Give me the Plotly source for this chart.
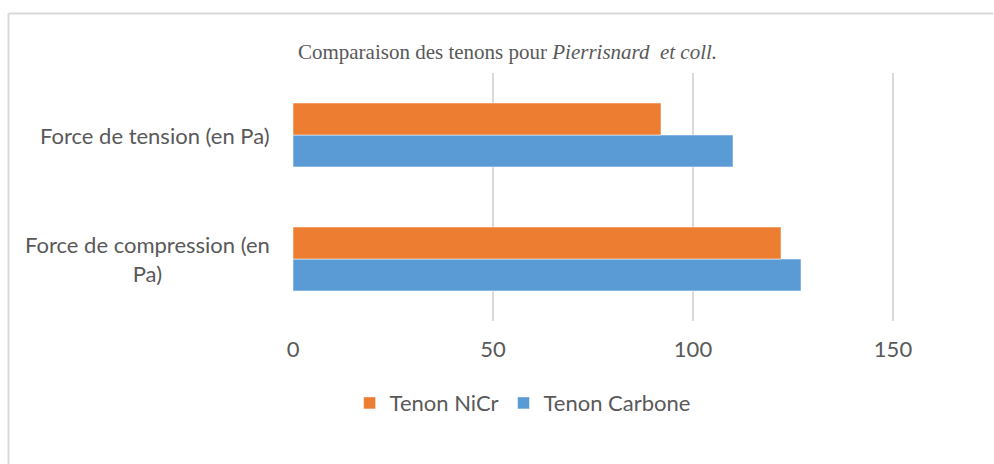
import plotly.graph_objects as go

categories = ["Force de compression (en Pa)", "Force de tension (en Pa)"]
category_labels = ["Force de compression (en<br>Pa)", "Force de tension (en Pa)"]
nicr_values = [122, 92]
carbone_values = [127, 110]
x_ticks = [0, 50, 100, 150]

FONT = "Lato, 'Noto Sans', sans-serif"
GREY = "#595959"

fig = go.Figure()
fig.add_trace(go.Bar(
    y=categories, x=carbone_values, orientation="h", name="Tenon Carbone",
    marker=dict(color="#5B9BD5", line=dict(color="rgba(255,255,255,0.5)", width=1)),
))
fig.add_trace(go.Bar(
    y=categories, x=nicr_values, orientation="h", name="Tenon NiCr",
    marker=dict(color="#ED7D31", line=dict(color="rgba(255,255,255,0.5)", width=1)),
))

for cat, lab in zip(categories, category_labels):
    fig.add_annotation(
        x=-0.03, xref="paper", y=cat, yref="y", text=lab, showarrow=False,
        xanchor="right", yanchor="middle", align="center",
        font=dict(family=FONT, size=22, color=GREY),
    )

# chart border (top and left)
fig.add_shape(type="line", xref="paper", yref="paper",
              x0=-0.4064, x1=1.0, y0=1.2399, y1=1.2399,
              line=dict(color="#d9d9d9", width=2))
fig.add_shape(type="line", xref="paper", yref="paper",
              x0=-0.4064, x1=-0.4064, y0=1.2399, y1=-0.6,
              line=dict(color="#d9d9d9", width=2))

fig.update_layout(
    width=994, height=464,
    margin=dict(l=293, r=1, t=73, b=143),
    paper_bgcolor="white", plot_bgcolor="white",
    barmode="group", bargap=0.484, bargroupgap=0,
    title=dict(
        text="Comparaison des tenons pour <i>Pierrisnard  et coll.</i>",
        x=0.5106, xanchor="center", xref="container",
        y=0.889, yanchor="middle", yref="container",
        font=dict(family="'Liberation Serif', 'DejaVu Serif', serif", size=21, color=GREY),
    ),
    xaxis=dict(
        range=[0, 175], tickvals=x_ticks, ticktext=[str(v) for v in x_ticks],
        showgrid=True, gridcolor="#d9d9d9", gridwidth=2,
        zeroline=False, showline=False,
        ticks="outside", ticklen=9, tickcolor="rgba(0,0,0,0)",
        tickfont=dict(family=FONT, size=22, color=GREY),
    ),
    yaxis=dict(
        categoryorder="array", categoryarray=categories,
        showticklabels=False, showgrid=False, zeroline=False, showline=False,
    ),
    legend=dict(
        orientation="h", x=0.328, xanchor="center", y=-0.331, yanchor="middle",
        traceorder="reversed", font=dict(family=FONT, size=22, color=GREY),
        itemwidth=30,
    ),
    showlegend=True,
)

fig.write_html("out.html", config={"displayModeBar": False},
               post_script="document.body.style.margin='0px';")
